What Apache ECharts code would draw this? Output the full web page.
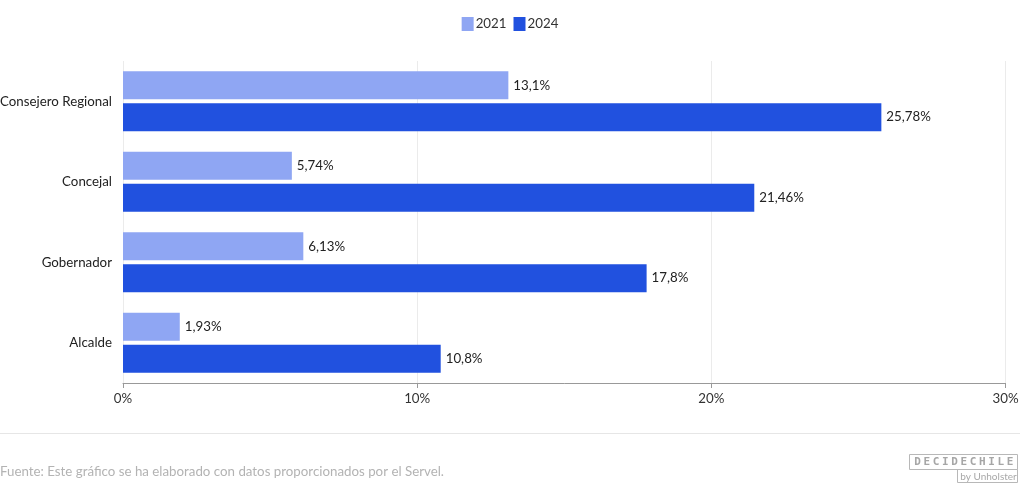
<!DOCTYPE html>
<html><head><meta charset="utf-8">
<script src="https://cdn.jsdelivr.net/npm/echarts@6/dist/echarts.min.js"></script>
<style>html,body{margin:0;padding:0;background:#fff}#c{width:1020px;height:490px}</style>
</head><body><div id="c"></div>
<script>
const categories = ['Consejero Regional', 'Concejal', 'Gobernador', 'Alcalde'];
const series2021 = [13.1, 5.74, 6.13, 1.93];
const series2024 = [25.78, 21.46, 17.8, 10.8];
const seriesNames = ['2021', '2024'];
const xTicks = [0, 10, 20, 30];
const logoText = 'DECIDECHILE';

const FONT = 'Lato';
const FS = 13.3;
const fmt = v => String(v).replace('.', ',') + '%';
const chart = echarts.init(document.getElementById('c'), null, {renderer: 'canvas'});

const logoLetters = logoText.split('').map((ch, i) => ({
  type: 'text', x: 917.5 + i * 9.25, y: 462.5,
  style: {text: ch, fill: '#a6a6a6', font: 'bold 11px "DejaVu Sans Mono"', align: 'center', verticalAlign: 'middle'}
}));

chart.setOption({
  animation: false,
  textStyle: {fontFamily: FONT},
  legend: {
    top: 12, left: 'center', itemWidth: 12, itemHeight: 14, itemGap: 7,
    icon: 'rect',
    textStyle: {fontFamily: FONT, fontSize: FS, color: '#333', padding: [0,0,0,-3]},
    data: seriesNames
  },
  grid: {left: 123, right: 14.5, top: 61, bottom: 107, containLabel: false, outerBoundsMode: 'none'},
  xAxis: {
    type: 'value', min: xTicks[0], max: xTicks[xTicks.length-1], interval: 10,
    axisLine: {show: true, lineStyle: {color: '#999'}},
    axisTick: {show: true, length: 5, lineStyle: {color: '#999'}},
    axisLabel: {formatter: v => v + '%', color: '#333', fontSize: FS, margin: 9, fontFamily: FONT},
    splitLine: {lineStyle: {color: '#ebebeb'}}
  },
  yAxis: {
    type: 'category', data: categories, inverse: true,
    axisLine: {show: false}, axisTick: {show: false},
    axisLabel: {color: '#222', fontSize: FS, margin: 11, fontFamily: FONT}
  },
  series: [
    {name: seriesNames[0], type: 'bar', data: series2021, barWidth: 28, barGap: '14%',
     itemStyle: {color: '#8fa6f3'},
     label: {show: true, position: 'right', distance: 5, color: '#222', fontSize: FS, fontFamily: FONT, formatter: p => fmt(p.value)}},
    {name: seriesNames[1], type: 'bar', data: series2024, barWidth: 28,
     itemStyle: {color: '#2151df'},
     label: {show: true, position: 'right', distance: 5, color: '#222', fontSize: FS, fontFamily: FONT, formatter: p => fmt(p.value)}}
  ],
  graphic: [
    {type: 'line', shape: {x1: 0, y1: 433.5, x2: 1020, y2: 433.5}, style: {stroke: '#e6e6e6', lineWidth: 1}},
    {type: 'text', left: 0, top: 465, style: {text: 'Fuente: Este gráfico se ha elaborado con datos proporcionados por el Servel.', fill: '#b3b3b3', font: FS + 'px ' + FONT}},
    {type: 'rect', shape: {x: 909.5, y: 454.5, width: 108, height: 15}, style: {fill: 'none', stroke: '#b8b8b8', lineWidth: 1}},
    {type: 'rect', shape: {x: 957.5, y: 469.5, width: 60, height: 13}, style: {fill: 'none', stroke: '#b8b8b8', lineWidth: 1}},
    {type: 'text', x: 988.5, y: 476.5, style: {text: 'by Unholster', fill: '#a8a8a8', font: '10px ' + FONT, align: 'center', verticalAlign: 'middle'}}
  ].concat(logoLetters)
});
</script></body></html>
